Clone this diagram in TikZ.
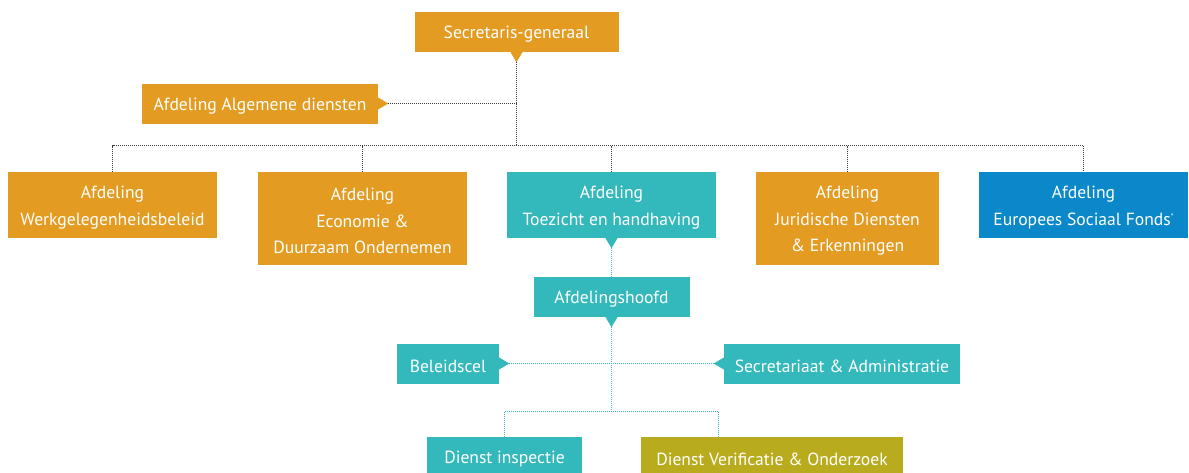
\documentclass[tikz,border=0pt]{standalone}
\usepackage{fontspec}
\setmainfont{PT Sans}
\definecolor{oranje}{HTML}{E39C21}
\definecolor{turkoois}{HTML}{33B8BC}
\definecolor{blauw}{HTML}{0A88CA}
\definecolor{olijf}{HTML}{B8AC1E}
\definecolor{lijn}{HTML}{3A3A3A}
% box node (#1 name, #2 style, #3/#4 centre, #5/#6 size) with its text node (#7)
\newcommand\orgbox[7]{%
  \node[#2, minimum width=#5, minimum height=#6] (#1) at (#3,#4) {};
  \node[boxtext] (#1-t) at ([yshift=-2.5pt]#1.center) {#7};}
\begin{document}
\begin{tikzpicture}[x=1pt,y=-1pt,
  box/.style={inner sep=0pt},
  boxtext/.style={inner sep=0pt, align=center, text=white,
    font=\fontsize{17.6}{26.5}\selectfont},
  obox/.style={box, fill=oranje},
  tbox/.style={box, fill=turkoois},
  dotline/.style={draw=lijn, line width=1pt, dash pattern=on 1pt off 1pt},
  tdotline/.style={draw=turkoois, line width=1pt, dash pattern=on 1pt off 1pt},
]
\useasboundingbox (0,0) rectangle (1189,472);

% --- top level ---
\orgbox{sg}{obox}{516.5}{32}{204}{40}{Secretaris-generaal}
\fill[oranje] ([xshift=-6pt]sg.south) -- ([xshift=6pt]sg.south) -- ([yshift=-10pt]sg.south) -- cycle;
\coordinate (sgtip) at ([yshift=-10pt]sg.south);

\orgbox{alg}{obox}{260}{103.5}{236}{40}{Afdeling Algemene diensten}
\fill[oranje] ([yshift=6pt]alg.east) -- ([yshift=-6pt]alg.east) -- ([xshift=10pt]alg.east) -- cycle;
\coordinate (algtip) at ([xshift=10pt]alg.east);

% --- departments ---
\orgbox{wgb}{obox}{112.5}{205}{209}{66}{Afdeling\\Werkgelegenheidsbeleid}
\orgbox{eco}{obox}{362.5}{218.5}{209}{93}{Afdeling\\Economie \&\\Duurzaam Ondernemen}
\orgbox{toe}{tbox}{611.5}{205}{209}{66}{Afdeling\\Toezicht en handhaving}
\fill[turkoois] ([xshift=-6pt]toe.south) -- ([xshift=6pt]toe.south) -- ([yshift=-10pt]toe.south) -- cycle;
\coordinate (toetip) at ([yshift=-10pt]toe.south);
\orgbox{jur}{obox}{847.5}{218.5}{183}{93}{Afdeling\\Juridische Diensten\\\& Erkenningen}
\orgbox{esf}{box, fill=blauw}{1083.5}{205}{209}{66}{Afdeling\\Europees Sociaal Fonds\raisebox{0.35em}{\fontsize{8}{8}\selectfont*}}

\coordinate (bus) at (516.5,145.5);
\draw[dotline] (sgtip) -- (bus);
\draw[dotline] (algtip) -- (algtip -| sgtip);
\draw[dotline] (wgb.north) -- (wgb.north |- bus) -- (esf.north |- bus) -- (esf.north);
\draw[dotline] (eco.north) -- (eco.north |- bus);
\draw[dotline] (toe.north) -- (toe.north |- bus);
\draw[dotline] (jur.north) -- (jur.north |- bus);

% --- Toezicht en handhaving ---
\orgbox{afd}{tbox}{611.5}{297}{156}{40}{Afdelingshoofd}
\fill[turkoois] ([xshift=-6pt]afd.south) -- ([xshift=6pt]afd.south) -- ([yshift=-10pt]afd.south) -- cycle;
\coordinate (afdtip) at ([yshift=-10pt]afd.south);
\draw[tdotline] (toetip) -- (afd.north);

\orgbox{bel}{tbox}{448}{363.5}{102}{40}{Beleidscel}
\fill[turkoois] ([yshift=6pt]bel.east) -- ([yshift=-6pt]bel.east) -- ([xshift=10pt]bel.east) -- cycle;
\coordinate (beltip) at ([xshift=10pt]bel.east);

\orgbox{sec}{tbox}{842}{363.5}{236}{40}{Secretariaat \& Administratie}
\fill[turkoois] ([yshift=6pt]sec.west) -- ([yshift=-6pt]sec.west) -- ([xshift=-10pt]sec.west) -- cycle;
\coordinate (sectip) at ([xshift=-10pt]sec.west);
\draw[tdotline] (beltip) -- (sectip);

\orgbox{din}{tbox}{504.5}{457}{155}{40}{Dienst inspectie}
\orgbox{dvo}{box, fill=olijf}{772}{457}{262}{40}{Dienst Verificatie \& Onderzoek}
\coordinate (dvoin) at ([xshift=77.5pt]dvo.north west);

\coordinate (bus2) at (611.5,411.5);
\draw[tdotline] (afdtip) -- (bus2);
\draw[tdotline] (din.north) -- (din.north |- bus2) -- (dvoin |- bus2) -- (dvoin);
\end{tikzpicture}
\end{document}
